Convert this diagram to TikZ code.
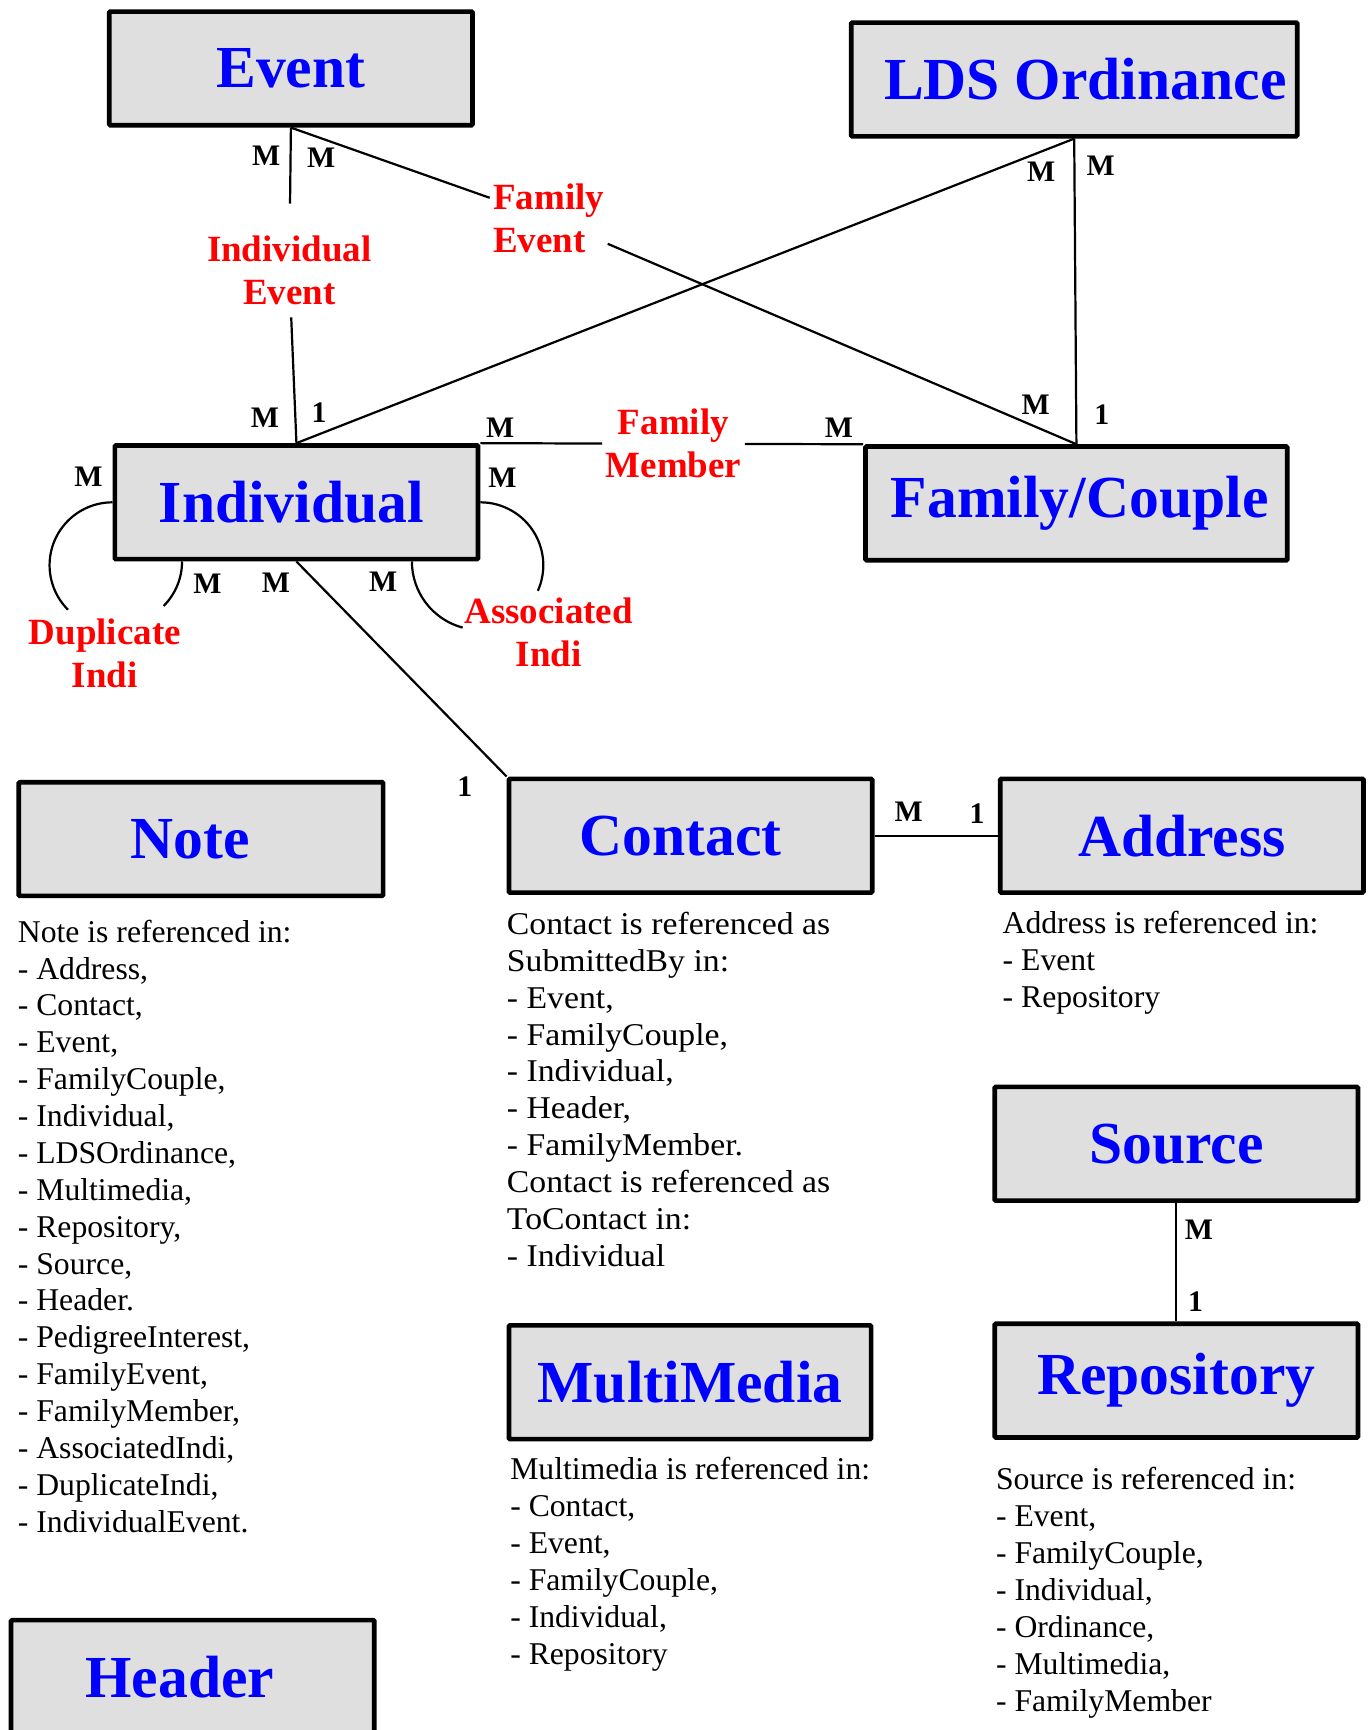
\documentclass[tikz,border=0pt]{standalone}
\usepackage{fontspec}
\setmainfont{Liberation Serif}
\newfontfamily\widefont[FakeStretch=1.065]{Liberation Serif}
\usetikzlibrary{positioning}
\usetikzlibrary{calc}
\definecolor{boxgray}{RGB}{223,223,223}
\tikzstyle{entity}=[rectangle,draw,fill=boxgray,line width=4.2pt,rounded corners=1pt,minimum height=103pt,inner sep=0pt,text=blue,font=\fontsize{54}{60}\selectfont\bfseries]
\tikzstyle{relation}=[text=red,align=center,inner sep=3pt,font=\fontsize{33.5}{39}\selectfont\bfseries]
\tikzstyle{card}=[inner sep=0pt,font=\fontsize{27}{30}\selectfont\bfseries]
\tikzstyle{link}=[draw,line width=2pt]
\tikzstyle{listing}=[anchor=north west,align=left,inner sep=0pt,font=\fontsize{28.7}{33.4}\selectfont]

\begin{document}
\begin{tikzpicture}[x=1pt,y=1pt]
  \useasboundingbox (0,0) rectangle (1240,1567);

  % entities
  \foreach \pos/\name/\boxw/\sh/\txt in {{(263.5,1505)/ev/329/0/Event}, {(973,1495)/lds/404/20/LDS Ordinance},
      {(268.5,1112)/ind/329/-9/Individual}, {(975,1111)/fc/382/6/{Family/Couple}},
      {(182,807)/note/330/-20/Note}, {(625.5,810)/ctc/329/-18/Contact}, {(1070.5,810)/adr/329/0/Address},
      {(1065.5,531)/src/329/0/Source}, {(1065.5,316.5)/rep/329/0/Repository},
      {(625,315)/mm/328/0/MultiMedia}, {(174.5,48)/hdr/329/-23/Header}}
    \node[entity,minimum width=\boxw pt] (\name) at \pos {\hspace*{\sh pt}\txt};

  % relations
  \node[relation] (ievt) at (262,1322) {Individual\\Event};
  \node[relation,align=left] (fevt) at (497,1369) {Family\\Event};
  \node[relation] (fmem) at (610,1165) {Family\\Member};
  \node[relation] (dupl) at (95,975) {Duplicate\\Indi};
  \node[relation] (asso) at (497,994.5) {Associated\\Indi};

  \path[link,shorten >=26pt] (ev.south) -- (ievt);
  \path[link,shorten <=8pt] (ievt) -- (ind.north);
  \path[link] (ev.south) -- (fevt) -- (fc.north);
  \path[link] (lds.south) -- (ind.north);
  \path[link] (lds.south) -- (fc.north);
  \path[link] (ind.north east) -- (fmem) -- (fc.north west);
  \path[link] (ind.south) -- (ctc.north west);
  \path[link] (ctc.east) -- (adr.west);
  \path[link] (src.south) -- (rep.north);

  % self loops
  \draw[link] (ind.west) arc[start angle=90,end angle=225,radius=57];
  \draw[link] ($(ind.south west)+(63,0)$) arc[start angle=0,end angle=-45,radius=57];
  \draw[link] (ind.east) arc[start angle=90,end angle=-24,radius=57];
  \draw[link] ($(ind.south east)+(-62,0)$) arc[start angle=180,end angle=255,radius=62];

  % cardinalities
  \foreach \pos/\mult [count=\i] in {{(241,1426)/M}, {(291,1424)/M}, {(240,1189)/M}, {(289,1193)/1},
      {(943,1411)/M}, {(997,1417)/M}, {(938,1200)/M}, {(998,1191)/1},
      {(453,1180)/M}, {(760,1180)/M}, {(80,1135)/M}, {(455,1134)/M},
      {(188,1038)/M}, {(250,1039)/M}, {(347,1040)/M}, {(421,854)/1},
      {(823,832)/M}, {(885,830)/1}, {(1086,453)/M}, {(1083,388)/1}}
    \node[card] (c\i) at \pos {\mult};

  % reference lists
  \node[listing] (notetxt) at (16,734) {Note is referenced in:\\- Address,\\- Contact,\\- Event,\\- FamilyCouple,\\- Individual,\\- LDSOrdinance,\\- Multimedia,\\- Repository,\\- Source,\\- Header.\\- PedigreeInterest,\\- FamilyEvent,\\- FamilyMember,\\- AssociatedIndi,\\- DuplicateIndi,\\- IndividualEvent.};
  \node[listing,font=\fontsize{28.7}{33.4}\widefont] (ctctxt) at (459,741) {Contact is referenced as\\SubmittedBy in:\\- Event,\\- FamilyCouple,\\- Individual,\\- Header,\\- FamilyMember.\\Contact is referenced as\\ToContact in:\\- Individual};
  \node[listing] (adrtxt) at (908,742) {Address is referenced in:\\- Event\\- Repository};
  \node[listing] (mmtxt) at (462,247) {Multimedia is referenced in:\\- Contact,\\- Event,\\- FamilyCouple,\\- Individual,\\- Repository};
  \node[listing] (srctxt) at (902,238) {Source is referenced in:\\- Event,\\- FamilyCouple,\\- Individual,\\- Ordinance,\\- Multimedia,\\- FamilyMember};

\end{tikzpicture}
\end{document}
